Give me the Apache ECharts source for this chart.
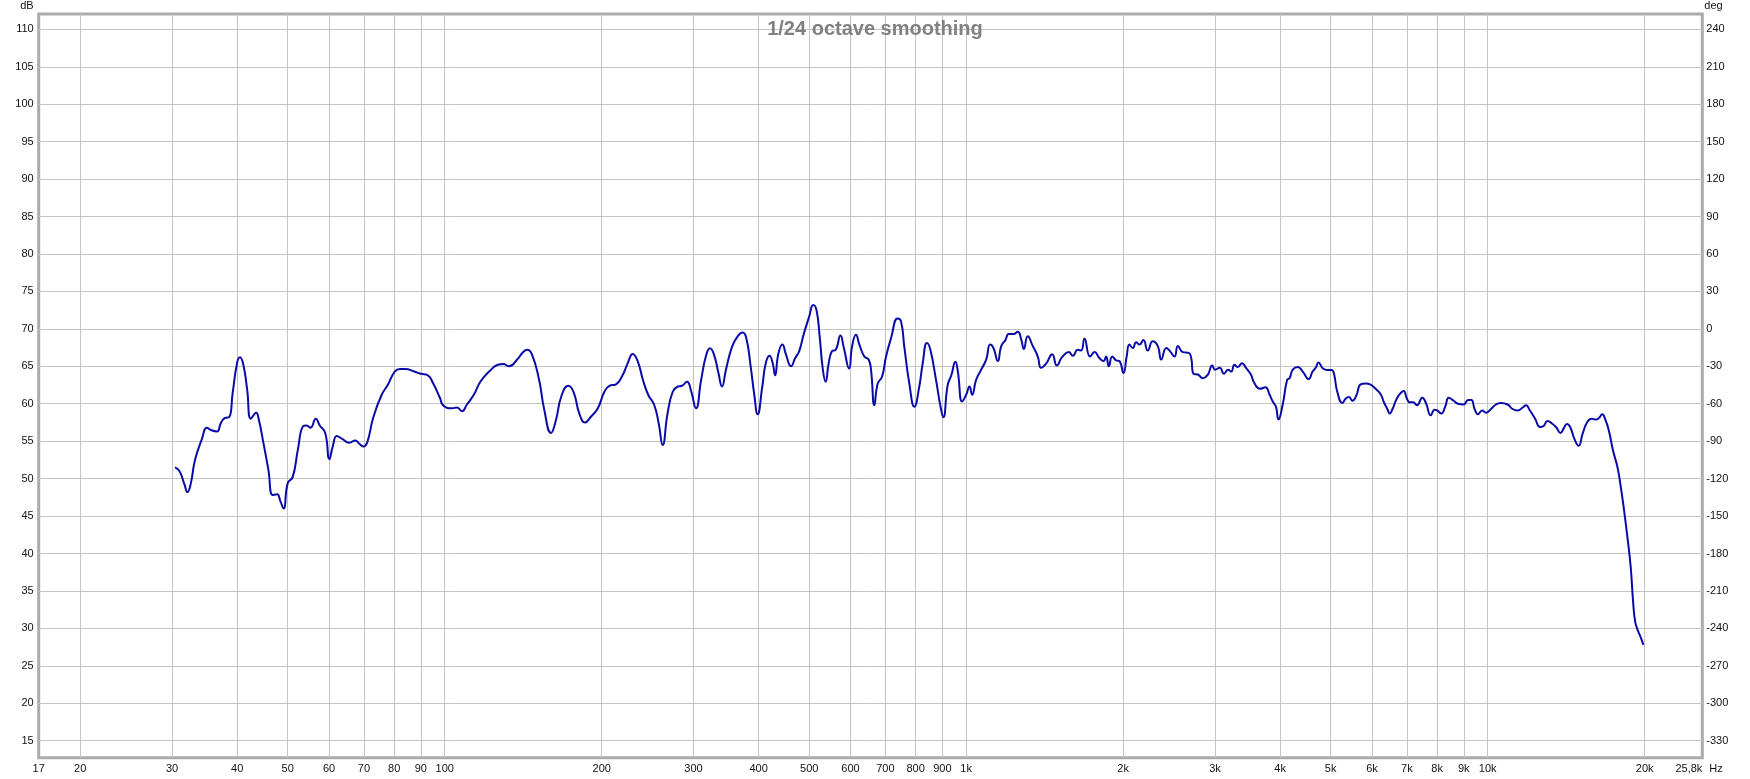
<!DOCTYPE html>
<html><head><meta charset="utf-8">
<script src="https://cdn.jsdelivr.net/npm/echarts@6/dist/echarts.min.js"></script>
<style>html,body{margin:0;padding:0;background:#fff}#c{width:1750px;height:779px}</style>
</head><body><div id="c"></div>
<script>
// Frequency response (Hz -> dB SPL)
const freqHz = [
30.4,31.0,31.7,32.1,32.6,33.2,34.2,35.0,35.6,36.6,37.2,37.9,38.6,39.2,40.0,40.5,41.1,41.8,42.5,43.5,
44.0,44.9,45.9,46.8,47.7,48.4,49.1,50.0,51.1,52.3,53.5,54.3,55.3,56.6,57.6,59.0,60.1,61.0,62.1,63.6,
65.6,67.4,68.5,69.8,71.0,72.9,75.6,77.9,80.2,82.1,84.0,87.4,90.0,92.8,94.9,97.9,99.4,103.4,105.6,107.9,
110.3,113.7,117.2,121.7,126.4,129.5,132.9,137.7,141,143.9,147,
151.7,155.2,159.9,163.4,167.2,172.5,176.6,181.2,185.8,190.9,196.6,202.4,206.9,213,219.3,224.3,229.4,234.7,239.9,245.6,
252.3,257.2,261.8,267.5,273.7,279.9,285.1,291.5,296.6,303.3,310.3,317.3,322.6,328.6,334.9,340.2,346.1,355.6,364.5,372.7,
378.8,386.1,392.0,398.2,406.5,412.7,419.6,425.6,430.1,436.4,444.1,451.6,461.4,470,478.2,488.5,500,508.9,516.4,523.6,
530.8,537.6,544.9,552.8,562,574.1,582,596.5,604,614.7,624,637.8,650,657,666.6,676.6,689.6,702,717.6,738.8,
750,761,778,795.4,813,825.3,841,853.8,875.2,893,904,921.7,936.5,953.4,
963.9,982.5,1000,1014.8,1026.8,1045,1068.5,1092.3,1111.9,1128,1150,1167.4,1189,1207,1232,1256,1275,1290,1312,1342,
1372,1392,1424,1462,1492,1528,1573,1601,1637,1661,1686,1728,1763,1801,1834,1855,1877,1906,1939,1967,
2003,2031,2056,2087,2118,2149,2187,2229,2279,2331,2366,2420,2461,2509,2547,2603,2672,2701,2729,2782,
2843,2907,2963,3000,3063,3122,3177,3223,3270,3318,3381,3440,3515,3567,3659,3748,3818,3872,3929,3970,
4048,4126,4169,4230,4324,4420,4536,4616,4680,4737,
4834,4927,5022,5074,5148,5266,5345,5423,5503,5600,5707,5834,5963,6096,6231,6325,6421,6490,6570,6671,
6775,6901,7000,7084,7193,7317,7494,7615,7778,7913,8000,8151,8290,8423,8607,8770,9000,9171,9305,9440,
9579,9760,9933,10149,10371,10598,10918,11164,11416,11672,11849,12054,12331,12604,12791,13019,13266,13554,13789,13993,
14191,14395,14667,14944,15210,15536,15836,16108,16345,16585,16829,17080,17389,17743,18001,18266,18535,18807,19001,19170,
19369,19657,19890
];
const splDb = [
51.5,51.0,49.2,48.2,49.4,52.5,55.2,56.8,56.5,56.3,57.4,58.1,58.2,61.4,65.5,66.2,65.2,61.9,58.0,58.8,
57.9,54.8,51.2,47.8,47.9,47.0,46.0,49.4,50.2,53.9,57.0,57.1,56.8,58.0,57.1,56.1,52.6,54.3,55.7,55.3,
54.8,55.1,54.7,54.3,54.8,58.1,61.1,62.6,64.3,64.65,64.65,64.3,64.0,63.8,62.8,60.8,59.75,59.4,59.5,59.0,
59.9,61.2,63.0,64.3,65.2,65.3,65.0,65.9,66.8,67.2,66.6,
63.2,59.2,56.1,57.8,60.9,62.4,61.6,58.7,57.5,58.3,59.4,61.6,62.4,62.6,63.8,65.4,66.65,65.6,63.2,61.2,
59.8,57.4,54.5,58.7,61.6,62.3,62.4,62.95,61.8,59.4,63.2,66.5,67.4,66.5,64.1,62.3,64.5,67.6,69.0,69.5,
68.75,65.0,61.4,58.6,62.3,65.4,66.4,65.4,63.8,66.7,67.9,66.5,65.0,66.1,67.0,69.4,71.65,73.2,72.5,69.0,
64.7,62.95,65.4,67.0,67.2,69.1,67.6,64.7,67.6,69.2,67.9,66.3,65.9,64.5,59.8,62.7,63.6,66.3,68.75,71.4,
71.0,67.6,62.7,59.6,62.3,65.4,68.1,67.2,63.2,59.6,58.2,62.5,63.8,65.6,
64.3,60.3,61.2,62.3,61.2,63.2,64.55,65.9,67.9,67.45,65.7,67.7,68.5,69.3,69.3,69.6,68.6,67.3,69.0,67.7,
66.3,64.8,65.4,66.6,65.1,66.25,66.9,66.4,67.2,67.1,68.7,66.3,66.9,66.1,65.7,66.3,65.0,66.3,65.8,65.7,
64.1,66.3,67.9,67.45,68.2,67.9,68.5,67.1,68.35,67.7,65.9,67.45,67.0,66.3,67.7,66.9,66.8,66.1,64.0,63.9,
63.4,63.9,65.1,64.55,64.8,64.0,64.55,64.3,65.2,64.9,65.4,64.8,63.9,62.8,62.0,62.2,61.2,60.3,59.55,57.9,
60.0,63.2,63.4,64.55,64.9,64.3,63.3,64.3,64.8,65.5,
64.7,64.5,64.5,64.0,61.6,60.1,60.7,60.9,60.4,61.1,62.6,62.7,62.55,62.0,61.3,60.2,59.3,58.7,59.3,60.45,
61.25,61.7,60.7,60.2,60.2,59.8,60.8,60.1,58.45,59.2,59.1,58.7,59.6,60.8,60.4,60.0,59.9,60.5,60.5,59.3,
58.6,59.1,58.8,59.3,59.9,60.1,59.9,59.3,59.1,59.5,59.8,59.1,58.0,56.9,57.0,57.7,57.4,56.8,56.1,56.7,
57.3,56.9,55.3,54.4,56.0,57.6,58.0,57.9,58.1,58.6,57.8,56.4,53.8,51.5,48.9,45.75,42.2,38.2,33.7,31.0,
29.9,28.8,27.8
];
// Axis ranges and tick labels
const freqMinHz = 16.65, freqMaxHz = 25800;
const freqGridHz = [20,30,40,50,60,70,80,90,100,200,300,400,500,600,700,800,900,
  1000,2000,3000,4000,5000,6000,7000,8000,9000,10000,20000];
const freqLabelHz = [freqMinHz].concat(freqGridHz, [freqMaxHz]);
const dbMin = 12.73, dbMax = 112.05;
const dbTicks = [15,20,25,30,35,40,45,50,55,60,65,70,75,80,85,90,95,100,105,110];
const degTicks = [-330,-300,-270,-240,-210,-180,-150,-120,-90,-60,-30,0,30,60,90,120,150,180,210,240];
const degPerDb = 6, degRef = 70; // deg = 6*(dB-70)

const lg = v => Math.log10(v);
const fmtHz = v => {
  const f = Math.pow(10, v);
  if (f >= 999.5) {
    const k = Math.round(f / 100) / 10;
    return String(k).replace('.', ',') + 'k';
  }
  return String(Math.round(f));
};
const FONT = 'Liberation Sans, Arial, sans-serif';
const lbl = {color: '#111', fontSize: 11, fontFamily: FONT};

const chart = echarts.init(document.getElementById('c'), null, {renderer: 'canvas'});
chart.setOption({
  animation: false,
  backgroundColor: '#fff',
  title: {
    text: '1/24 octave smoothing', left: 'center', top: 14,
    textStyle: {color: '#808080', fontSize: 20, fontWeight: 'bold', fontFamily: FONT}
  },
  grid: {
    left: 38.7, right: 47.7, top: 14, bottom: 21.3,
    show: true, borderColor: '#ababab', borderWidth: 3, backgroundColor: '#fff',
    outerBoundsMode: 'none', containLabel: false
  },
  xAxis: {
    type: 'value', min: lg(freqMinHz), max: lg(freqMaxHz),
    name: 'Hz', nameLocation: 'end', nameGap: 7,
    nameTextStyle: Object.assign({}, lbl, {verticalAlign: 'top', padding: [6, 0, 0, 0]}),
    axisLine: {show: false, onZero: false},
    axisTick: {show: false, customValues: freqGridHz.map(lg)},
    splitLine: {show: true, lineStyle: {color: '#c4c4c4', width: 1}},
    axisLabel: Object.assign({}, lbl, {
      customValues: freqLabelHz.map(lg), margin: 6, formatter: fmtHz,
      alignMaxLabel: 'right', showMinLabel: true, showMaxLabel: true
    })
  },
  yAxis: [{
    type: 'value', min: dbMin, max: dbMax, position: 'left',
    name: 'dB', nameLocation: 'end', nameGap: 3,
    nameTextStyle: Object.assign({}, lbl, {align: 'right', verticalAlign: 'bottom', padding: [0, 5, 0, 0]}),
    axisLine: {show: false, onZero: false},
    axisTick: {show: false, customValues: dbTicks},
    splitLine: {show: true, lineStyle: {color: '#c4c4c4', width: 1}},
    axisLabel: Object.assign({}, lbl, {customValues: dbTicks, margin: 5})
  }, {
    type: 'value', min: degPerDb * (dbMin - degRef), max: degPerDb * (dbMax - degRef), position: 'right',
    name: 'deg', nameLocation: 'end', nameGap: 3,
    nameTextStyle: Object.assign({}, lbl, {align: 'left', verticalAlign: 'bottom', padding: [0, 0, 0, 2]}),
    axisLine: {show: false, onZero: false},
    axisTick: {show: false, customValues: degTicks},
    splitLine: {show: false},
    axisLabel: Object.assign({}, lbl, {customValues: degTicks, margin: 4})
  }],
  series: [{
    type: 'line', name: 'SPL', xAxisIndex: 0, yAxisIndex: 0,
    data: freqHz.map((f, i) => [lg(f), splDb[i]]),
    showSymbol: false, smooth: 0.5,
    lineStyle: {color: '#0a0aa8', width: 2}, z: 5
  }]
});
</script></body></html>
